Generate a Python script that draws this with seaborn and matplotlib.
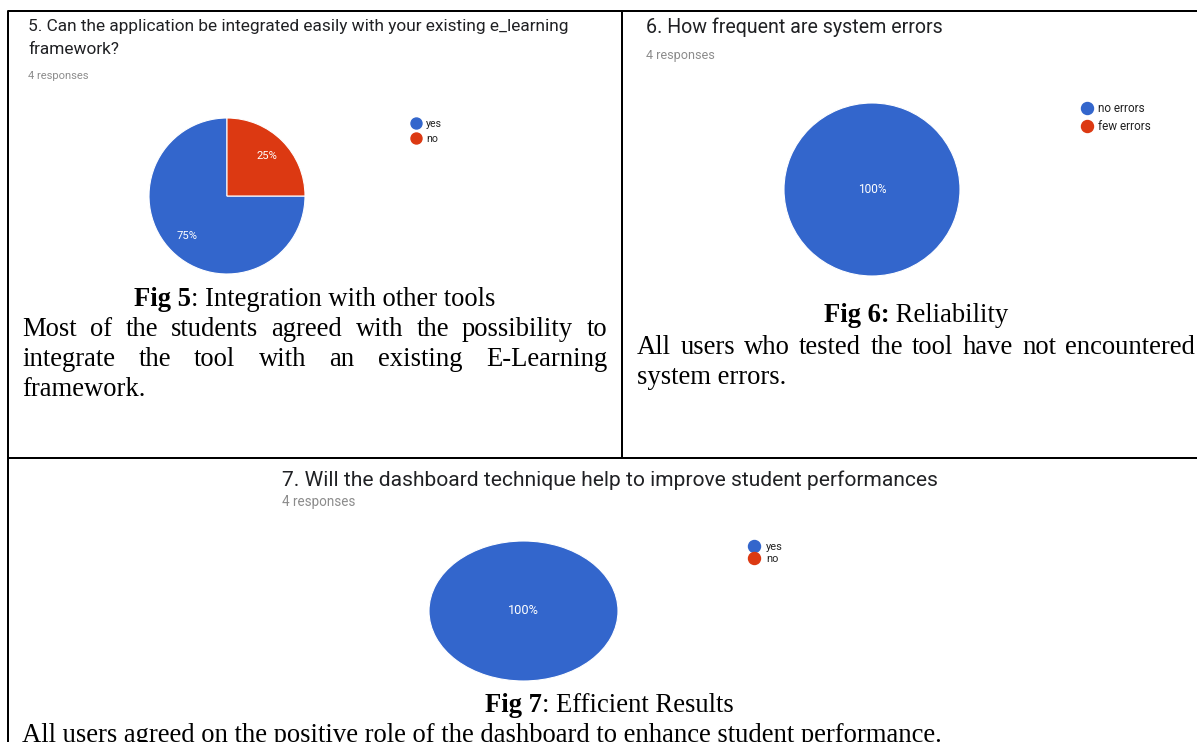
import matplotlib
matplotlib.use('Agg')
import matplotlib.pyplot as plt
import seaborn as sns
from matplotlib.lines import Line2D

# survey answers (4 responses per question)
q5_title = ['5. Can the application be integrated easily with your existing e_learning',
            'framework?']
q5_labels = ['yes', 'no']
q5_counts = [3, 1]

q6_title = ['6. How frequent are system errors']
q6_labels = ['no errors', 'few errors']
q6_counts = [4, 0]

q7_title = ['7. Will the dashboard technique help to improve student performances']
q7_labels = ['yes', 'no']
q7_counts = [4, 0]

responses = '4 responses'

sns.set_theme(style='white')
colors = ['#3366cc', '#dc3912']
SANS = ['Roboto', 'DejaVu Sans']
SERIF = ['Liberation Serif', 'DejaVu Serif']

W, H = 1197, 742
fig = plt.figure(figsize=(W / 100, H / 100), dpi=100)
fig.patch.set_facecolor('white')
bg = fig.add_axes([0, 0, 1, 1])
bg.set_xlim(0, W)
bg.set_ylim(H, 0)
bg.axis('off')
renderer = fig.canvas.get_renderer()


def px(v):
    return v * 0.72


def width_of(t):
    return t.get_window_extent(renderer).width


def fit(t, target):
    t.set_fontsize(t.get_fontsize() * target / width_of(t))
    return t


def put(x, y, s, target=None, size=10, **kw):
    t = bg.text(x, y, s, fontsize=size, va='center', **kw)
    if target:
        fit(t, target)
    return t


# table borders
lw = px(2)
bg.plot([8, 8], [11, H], color='black', lw=lw, solid_capstyle='butt')
bg.plot([8, W], [11, 11], color='black', lw=lw)
bg.plot([8, W], [458, 458], color='black', lw=lw)
bg.plot([622, 622], [11, 458], color='black', lw=lw)


def pie_panel(box, counts, pct_width, pct_text):
    x0, y0, x1, y1 = box
    ax = fig.add_axes([x0 / W, 1 - y1 / H, (x1 - x0) / W, (y1 - y0) / H])
    wedges, _, autotexts = ax.pie(
        counts, colors=colors, startangle=0, counterclock=False,
        autopct=lambda p: f'{p:.0f}%' if p > 0 else '', pctdistance=0.72,
        wedgeprops=dict(edgecolor='white', linewidth=0.8),
        textprops=dict(color='white', fontsize=8, family=SANS))
    ax.set_aspect('auto')
    ax.set_xlim(-1, 1)
    ax.set_ylim(-1, 1)
    size = None
    for t, w, c in zip(autotexts, wedges, counts):
        if c == 0:
            w.set_linewidth(0)
        if c == sum(counts):
            t.set_position((0, 0))
        if t.get_text() == pct_text:
            size = fit(t, pct_width).get_fontsize()
    for t in autotexts:
        t.set_fontsize(size)
    return ax


def legend(labels, mx, ymid, fs, dot, spacing, tx):
    handles = [Line2D([], [], ls='none', marker='o', markersize=px(dot),
                      markerfacecolor=c, markeredgecolor=c) for c in colors]
    hl = 1.0
    left = mx - hl * fs / 2
    pad = (tx - mx - fs / 2) / fs
    fig.legend(handles, labels, loc='center left',
               bbox_to_anchor=(left / W, 1 - ymid / H), frameon=False,
               borderpad=0, borderaxespad=0, handlelength=hl,
               handletextpad=pad, labelspacing=spacing,
               prop=dict(family=SANS, size=px(fs)), labelcolor='#222222')


# ---- question 5 ----
t = put(28, 27, q5_title[0], 543, family=SANS, color='#202124')
put(28, 50, q5_title[1], size=t.get_fontsize(), family=SANS, color='#202124')
put(28, 76, responses, 61, family=SANS, color='#8c8c8c')
pie_panel((149, 118, 305, 274), q5_counts, 21, '25%')
legend(q5_labels, 416, 131.5, 10.5, 11, 0.45, 426)

# ---- question 6 ----
put(646, 27, q6_title[0], 297, family=SANS, color='#202124')
put(646, 55, responses, 69, family=SANS, color='#8c8c8c')
pie_panel((784, 103, 960, 276), q6_counts, 29, '100%')
legend(q6_labels, 1087, 117.5, 11.7, 12, 0.45, 1098)

# ---- question 7 ----
put(282, 480, q7_title[0], 655, family=SANS, color='#202124')
put(282, 502, responses, 74, family=SANS, color='#8c8c8c')
pie_panel((429, 541, 618, 681), q7_counts, 31, '100%')
legend(q7_labels, 754, 553, 11, 12, 0.2, 766)

# ---- report text (Times style) ----
dy = 3
last = put(22, 733 + dy, 'All users agreed on the positive role of the dashboard to enhance student performance.',
           920, family=SERIF, color='black')
BODY = last.get_fontsize()


def caption(cx, y, bold, rest):
    b = bg.text(0, y + dy, bold, fontsize=BODY, family=SERIF, weight='bold', va='center', color='black')
    r = bg.text(0, y + dy, rest, fontsize=BODY, family=SERIF, va='center', color='black')
    wb, wr = width_of(b), width_of(r)
    b.set_x(cx - (wb + wr) / 2)
    r.set_x(cx - (wb + wr) / 2 + wb)


def justify(line, x0, x1, y):
    words = line.split()
    ts = [bg.text(0, y + dy, w, fontsize=BODY, family=SERIF, va='center', color='black') for w in words]
    ws = [width_of(t) for t in ts]
    gap = (x1 - x0 - sum(ws)) / (len(words) - 1)
    x = x0
    for t, w in zip(ts, ws):
        t.set_x(x)
        x += w + gap


caption(315, 296, 'Fig 5', ': Integration with other tools')
justify('Most of the students agreed with the possibility to', 22, 607, 326)
justify('integrate the tool with an existing E-Learning', 22, 607, 357)
put(22, 387 + dy, 'framework.', size=BODY, family=SERIF, color='black')

caption(916, 313, 'Fig 6:', ' Reliability')
justify('All users who tested the tool have not encountered', 637, 1195, 344)
put(637, 375 + dy, 'system errors.', size=BODY, family=SERIF, color='black')

caption(609, 702, 'Fig 7', ': Efficient Results')

fig.savefig('out.png', dpi=100)
